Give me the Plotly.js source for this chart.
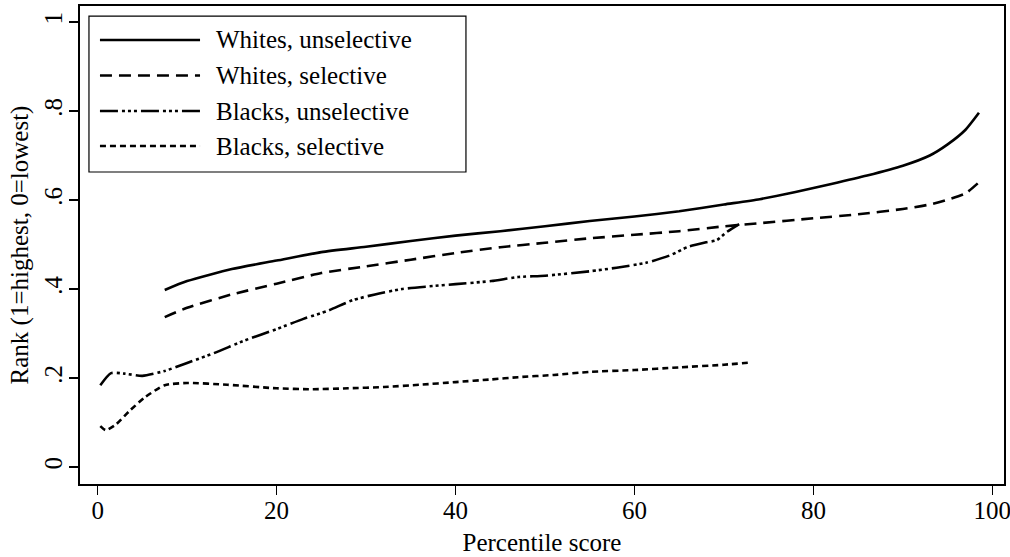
<!DOCTYPE html>
<html>
<head>
<meta charset="utf-8">
<script src="https://cdn.plot.ly/plotly-3.0.1.min.js"></script>
<style>
  html, body { margin: 0; padding: 0; background: #fff; }
  #chart { width: 1010px; height: 557px; }
</style>
</head>
<body>
<div id="chart"></div>
<script>
// Rank by percentile score, by race and school selectivity
const seriesNames = ["Whites, unselective", "Whites, selective", "Blacks, unselective", "Blacks, selective"];

const whitesUnselX = [7.5, 10, 15, 20, 25, 30, 35, 40, 45, 50, 55, 60, 65, 70, 74, 78, 82, 86, 90, 93, 95, 97, 98.5];
const whitesUnselY = [0.398, 0.418, 0.445, 0.464, 0.483, 0.495, 0.508, 0.520, 0.530, 0.541, 0.553, 0.563, 0.575, 0.590, 0.602, 0.618, 0.636, 0.655, 0.677, 0.700, 0.725, 0.758, 0.796];

const whitesSelX = [7.5, 10, 15, 20, 25, 30, 35, 40, 45, 50, 55, 60, 65, 70, 74, 80, 85, 90, 93, 95, 97, 98.5];
const whitesSelY = [0.337, 0.358, 0.388, 0.412, 0.436, 0.451, 0.466, 0.481, 0.494, 0.504, 0.514, 0.522, 0.530, 0.541, 0.548, 0.559, 0.568, 0.580, 0.590, 0.601, 0.615, 0.640];

const blacksUnselX = [0.3, 1.5, 3, 5, 7.5, 10, 13, 16.5, 20, 23, 25.7, 28.5, 31, 34, 37, 40, 44, 47, 50, 55, 58, 61.3, 64, 66, 68, 69.2, 70.3, 71.7];
const blacksUnselY = [0.184, 0.211, 0.210, 0.205, 0.216, 0.234, 0.256, 0.285, 0.310, 0.333, 0.351, 0.375, 0.388, 0.400, 0.406, 0.411, 0.418, 0.427, 0.430, 0.440, 0.448, 0.459, 0.476, 0.495, 0.505, 0.510, 0.528, 0.546];

const blacksSelX = [0.3, 0.9, 2, 3.5, 5.3, 7.5, 10, 14.5, 20, 24, 28, 32, 36, 40, 44, 47, 51, 55, 60, 65, 70, 73];
const blacksSelY = [0.092, 0.083, 0.095, 0.125, 0.157, 0.184, 0.189, 0.185, 0.177, 0.175, 0.177, 0.180, 0.185, 0.191, 0.197, 0.202, 0.207, 0.214, 0.218, 0.224, 0.230, 0.235];

const xTickVals = [0, 20, 40, 60, 80, 100];
const xTickText = ["0", "20", "40", "60", "80", "100"];
const yTickVals = [0, 0.2, 0.4, 0.6, 0.8, 1];
const yTickText = ["0", ".2", ".4", ".6", ".8", "1"];

const dashes = ["solid", "12px,7px", "18px,4px,3px,3px,3px,3px,3px,4px", "6px,4px"];
const FONT = "Liberation Serif, Times New Roman, serif";
const FS = 25;
const LW = 2.6;

const xs = [whitesUnselX, whitesSelX, blacksUnselX, blacksSelX];
const ys = [whitesUnselY, whitesSelY, blacksUnselY, blacksSelY];

const traces = seriesNames.map((name, i) => ({
  type: "scatter",
  mode: "lines",
  name: name,
  x: xs[i],
  y: ys[i],
  line: { color: "#000", width: LW, dash: dashes[i], shape: "spline", smoothing: 0.6 },
  showlegend: false,
  hoverinfo: "skip"
}));

// Boxed key in the upper-left corner, drawn with paper-referenced shapes
const shapes = [{
  type: "rect", xref: "paper", yref: "paper",
  x0: 0.0097, x1: 0.4177, y0: 0.6527, y1: 0.979,
  line: { color: "#000", width: 1.2 }, fillcolor: "#fff", layer: "above"
}];
const annotations = [];
const rowY = [0.9289, 0.8547, 0.7803, 0.7071];
seriesNames.forEach((name, i) => {
  shapes.push({
    type: "line", xref: "paper", yref: "paper",
    x0: 0.0216, x1: 0.1299, y0: rowY[i], y1: rowY[i],
    line: { color: "#000", width: LW, dash: dashes[i] }, layer: "above"
  });
  annotations.push({
    xref: "paper", yref: "paper", x: 0.1450, y: rowY[i],
    xanchor: "left", yanchor: "middle", showarrow: false,
    text: name, font: { family: FONT, size: FS, color: "#000" }
  });
});

const layout = {
  width: 1010, height: 557,
  margin: { l: 80, r: 6, t: 6, b: 73 },
  paper_bgcolor: "#fff", plot_bgcolor: "#fff",
  font: { family: FONT, size: FS, color: "#000" },
  showlegend: false,
  xaxis: {
    range: [-1.97, 101.3],
    tickvals: xTickVals, ticktext: xTickText,
    ticks: "outside", ticklen: 9, tickwidth: 1.3, tickcolor: "#000",
    ticklabeloverflow: "allow", ticklabelstandoff: -6,
    showline: true, linecolor: "#000", linewidth: 2, mirror: true,
    showgrid: false, zeroline: false,
    tickfont: { family: FONT, size: FS, color: "#000" },
    title: { text: "Percentile score", font: { family: FONT, size: FS, color: "#000" }, standoff: 10 }
  },
  yaxis: {
    range: [-0.038, 1.036],
    tickvals: yTickVals, ticktext: yTickText,
    tickangle: -90,
    ticks: "outside", ticklen: 9, tickwidth: 1.3, tickcolor: "#000",
    ticklabelstandoff: -3,
    showline: true, linecolor: "#000", linewidth: 2, mirror: true,
    showgrid: false, zeroline: false,
    tickfont: { family: FONT, size: FS, color: "#000" },
    title: { text: "Rank (1=highest, 0=lowest)", font: { family: FONT, size: FS, color: "#000" }, standoff: 4 }
  },
  shapes: shapes,
  annotations: annotations
};

Plotly.newPlot("chart", traces, layout, { staticPlot: true, displayModeBar: false });
</script>
</body>
</html>
